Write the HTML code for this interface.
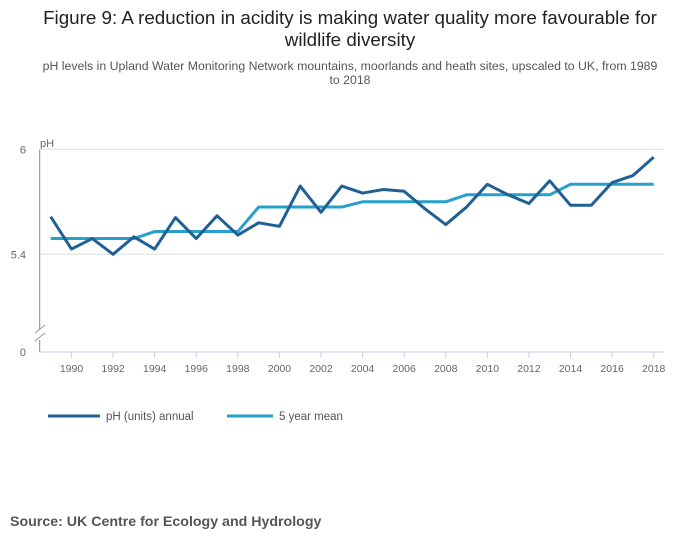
<!DOCTYPE html>
<html><head><meta charset="utf-8"><style>
body{margin:0;background:#fff;width:700px;height:549px;overflow:hidden;font-family:"Liberation Sans",sans-serif}
</style></head><body>
<svg id="c" width="700" height="549" xmlns="http://www.w3.org/2000/svg">
<text x="350" y="24" text-anchor="middle" font-size="18.8" fill="#222">Figure 9: A reduction in acidity is making water quality more favourable for</text>
<text x="350" y="46" text-anchor="middle" font-size="18.8" fill="#222">wildlife diversity</text>
<text x="350" y="70" text-anchor="middle" font-size="12.3" fill="#555">pH levels in Upland Water Monitoring Network mountains, moorlands and heath sites, upscaled to UK, from 1989</text>
<text x="350" y="84" text-anchor="middle" font-size="12.3" fill="#555">to 2018</text>
<text x="40" y="147" font-size="11" fill="#666">pH</text>
<g id="grid"></g><g id="axes"></g><g id="series"></g>
<g>
<line x1="48" y1="416" x2="100" y2="416" stroke="#206095" stroke-width="3"/>
<text x="106" y="420" font-size="11.5" fill="#555">pH (units) annual</text>
<line x1="227" y1="416" x2="273" y2="416" stroke="#27a0cc" stroke-width="3"/>
<text x="279" y="420" font-size="11.5" fill="#555">5 year mean</text>
</g>
<text x="10" y="526" font-size="14.2" font-weight="bold" fill="#555">Source: UK Centre for Ecology and Hydrology</text>
</svg>
<script>
const years=[1989,1990,1991,1992,1993,1994,1995,1996,1997,1998,1999,2000,2001,2002,2003,2004,2005,2006,2007,2008,2009,2010,2011,2012,2013,2014,2015,2016,2017,2018];
const annual=[5.615,5.43,5.49,5.40,5.50,5.43,5.61,5.49,5.62,5.51,5.58,5.56,5.79,5.64,5.79,5.75,5.77,5.76,5.66,5.57,5.67,5.80,5.74,5.69,5.82,5.68,5.68,5.81,5.85,5.955];
const mean5=[5.49,5.49,5.49,5.49,5.49,5.53,5.53,5.53,5.53,5.53,5.67,5.67,5.67,5.67,5.67,5.70,5.70,5.70,5.70,5.70,5.74,5.74,5.74,5.74,5.74,5.80,5.80,5.80,5.80,5.80];
const xTicks=[1990,1992,1994,1996,1998,2000,2002,2004,2006,2008,2010,2012,2014,2016,2018];
const yTicks=[6,5.4];
const NS="http://www.w3.org/2000/svg";
const X=y=>50.7+(y-1989)*(653.7-50.7)/29;
const Y=v=>149.3+(6-v)*175;
function mk(t,a,p){const e=document.createElementNS(NS,t);for(const k in a)e.setAttribute(k,a[k]);p.appendChild(e);return e;}
const grid=document.getElementById('grid'),axes=document.getElementById('axes'),ser=document.getElementById('series');
yTicks.forEach(v=>{
 const l=mk('line',{x1:39,x2:664,y1:Y(v),y2:Y(v),stroke:'#ddd','stroke-width':1},grid);
 
 
 const t=mk('text',{x:26,y:Y(v)+4,'text-anchor':'end','font-size':11,fill:'#666'},grid);
 t.textContent=String(v);
 
 
});
const z=mk('text',{x:26,y:356,'text-anchor':'end','font-size':11,fill:'#666'},axes);z.textContent='0';


const ya=mk('path',{d:'M39.7 150V329M39.7 340V352',stroke:'#888','stroke-width':1,fill:'none'},axes);


const br=mk('path',{d:'M35 333L45 325M35 341L45 333',stroke:'#999','stroke-width':1,fill:'none'},axes);


const xa=mk('line',{x1:39,x2:664,y1:352,y2:352,stroke:'#c4d2e8','stroke-width':1},axes);


xTicks.forEach(y=>{
 const tk=mk('line',{x1:X(y),x2:X(y),y1:352,y2:358,stroke:'#c4d2e8'},axes);
 
 
 const t=mk('text',{x:X(y),y:372,'text-anchor':'middle','font-size':10.5,fill:'#666'},axes);
 t.textContent=String(y);
 
 
});
const pm=mk('polyline',{points:years.map((y,i)=>X(y)+','+Y(mean5[i])).join(' '),fill:'none',stroke:'#27a0cc','stroke-width':3,'stroke-linejoin':'round'},ser);


const pa=mk('polyline',{points:years.map((y,i)=>X(y)+','+Y(annual[i])).join(' '),fill:'none',stroke:'#206095','stroke-width':3,'stroke-linejoin':'round'},ser);


</script>
</body></html>
